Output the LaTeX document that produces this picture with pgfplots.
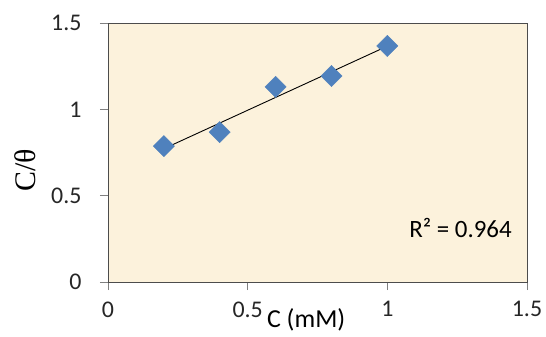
\documentclass[border=0pt]{standalone}
\usepackage{fontspec}
\setmainfont{Carlito}
\newfontfamily\serifont{Liberation Serif}
\usepackage{pgfplots}
\pgfplotsset{compat=1.18}
\definecolor{bg}{RGB}{252,242,220}
\definecolor{mk}{RGB}{79,129,189}
\begin{document}
\begin{tikzpicture}
\useasboundingbox (-108bp,-55bp) rectangle (438bp,282bp);
\begin{axis}[
  at={(0,0)}, anchor=south west,
  scale only axis, width=419bp, height=259bp,
  xmin=0, xmax=1.5, ymin=0, ymax=1.5,
  xtick={0,0.5,1,1.5}, ytick={0,0.5,1,1.5},
  xticklabels={0,0.5,1,1.5}, yticklabels={0,0.5,1,1.5},
  axis background/.style={fill=bg},
  axis line style={draw=black!70, line width=0.8bp},
  tick style={draw=gray, line width=0.8bp},
  tick align=outside, major tick length=8bp,
  xtick pos=bottom, ytick pos=left,
  tick label style={font=\fontsize{24}{28}\selectfont, text=black!85},
  yticklabel style={xshift=-15bp},
  xticklabel style={yshift=-8bp},
  ylabel={\serifont C/θ},
  every axis y label/.style={at={(axis description cs:-0.198,0.432)}, anchor=center, rotate=90, font=\fontsize{30}{34}\selectfont},
  xlabel={C (mM)},
  every axis x label/.style={at={(axis description cs:0.473,0)}, anchor=base, yshift=-45bp, font=\fontsize{26}{30}\selectfont},
  clip=false,
]
\addplot[only marks, mark=square*, mark size=7.5bp, mark options={rotate=45, fill=mk, draw=mk}] coordinates {
  (0.2,0.787) (0.4,0.868) (0.6,1.130) (0.8,1.193) (1.0,1.367)
};
\addplot[black, line width=0.9bp] coordinates {(0.2,0.772) (1.0,1.366)};
\node[anchor=base, font=\fontsize{25}{29}\selectfont] at (axis cs:1.262,0.255) {R² = 0.964};
\end{axis}
\end{tikzpicture}
\end{document}
